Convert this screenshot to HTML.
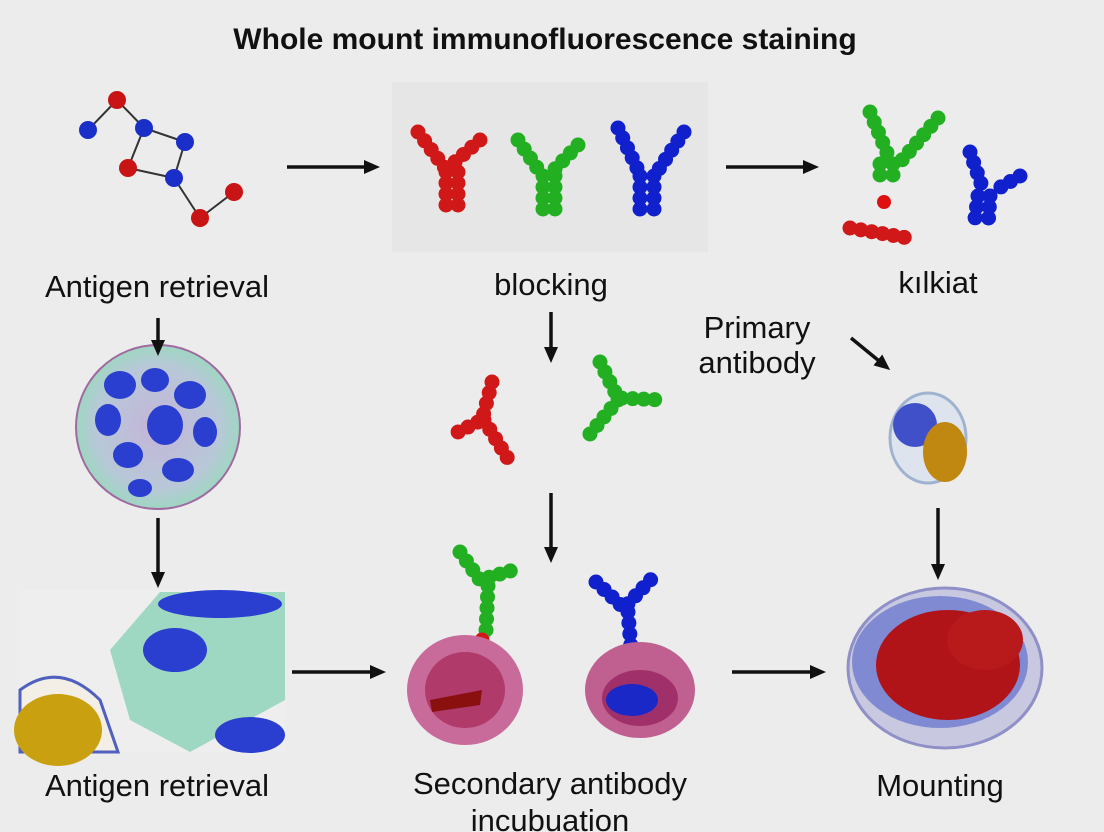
<!DOCTYPE html>
<html><head><meta charset="utf-8"><style>
html,body{margin:0;padding:0;background:#ececec;}
svg{display:block}
text{font-family:"Liberation Sans",sans-serif;fill:#111}
</style></head><body>
<svg width="1104" height="832" viewBox="0 0 1104 832">
<defs>
<marker id="ah" markerWidth="16" markerHeight="16" refX="8" refY="8" orient="auto" markerUnits="userSpaceOnUse"><path d="M0,1 L16,8 L0,15 Z" fill="#111"/></marker>
<radialGradient id="cellg" cx="50%" cy="50%" r="50%"><stop offset="0" stop-color="#c3b4d8"/><stop offset="0.75" stop-color="#b8c8d8"/><stop offset="1" stop-color="#9fd6c2"/></radialGradient>
</defs>
<rect width="1104" height="832" fill="#ececec"/>
<rect x="392" y="82" width="316" height="170" fill="#e6e6e6"/>
<text x="545" y="49" font-size="30" font-weight="bold" text-anchor="middle">Whole mount immunofluorescence staining</text>

<g stroke="#333" stroke-width="2">
<line x1="88" y1="130" x2="117" y2="100"/><line x1="117" y1="100" x2="144" y2="128"/>
<line x1="144" y1="128" x2="185" y2="142"/><line x1="144" y1="128" x2="128" y2="168"/>
<line x1="128" y1="168" x2="174" y2="178"/><line x1="185" y1="142" x2="174" y2="178"/>
<line x1="174" y1="178" x2="200" y2="218"/><line x1="200" y1="218" x2="234" y2="192"/>
</g>
<g><circle cx="117" cy="100" r="9" fill="#c81414"/><circle cx="88" cy="130" r="9" fill="#1a2fc8"/>
<circle cx="144" cy="128" r="9" fill="#1a2fc8"/><circle cx="185" cy="142" r="9" fill="#1a2fc8"/>
<circle cx="128" cy="168" r="9" fill="#c81414"/><circle cx="174" cy="178" r="9" fill="#1a2fc8"/>
<circle cx="200" cy="218" r="9" fill="#c81414"/><circle cx="234" cy="192" r="9" fill="#c81414"/></g>

<g fill="none" stroke-linecap="round" stroke-dasharray="0 11" stroke-width="15">
<path d="M418,132 L445,168 M480,140 L448,168" stroke="#d01818"/>
<path d="M446,172 L446,212 M458,172 L458,212" stroke="#d01818"/>
<path d="M518,140 L540,172 M578,145 L552,172" stroke="#22b022"/>
<path d="M543,176 L543,214 M555,176 L555,214" stroke="#22b022"/>
<path d="M618,128 L638,170 M684,132 L657,172" stroke="#1020cc"/>
<path d="M640,176 L640,214 M654,176 L654,214" stroke="#1020cc"/>
<path d="M870,112 L890,160 M938,118 L902,160" stroke="#22b022"/>
<path d="M880,164 L880,186 M893,164 L893,186" stroke="#22b022"/>
<path d="M850,228 L908,238" stroke="#d01818"/>
<path d="M970,152 L984,192 M1020,176 L992,192" stroke="#1020cc"/>
<path d="M978,196 L974,226 M990,196 L988,226" stroke="#1020cc"/>
</g>
<circle cx="884" cy="202" r="7" fill="#e01010"/>

<g fill="none" stroke-linecap="round" stroke-dasharray="0 11" stroke-width="15">
<path d="M492,382 L482,420 L458,432 M484,420 L510,462" stroke="#d01818"/>
<path d="M600,362 L618,398 L662,400 M618,400 L585,440" stroke="#22b022"/>
<path d="M460,552 L480,580 L520,568 M488,586 L486,630" stroke="#22b022"/>
<path d="M482,640 L470,690" stroke="#d01818"/>
<path d="M596,582 L624,608 L656,574 M628,612 L632,660" stroke="#1020cc"/>
</g>

<circle cx="158" cy="427" r="82" fill="url(#cellg)" stroke="#a06aa0" stroke-width="2"/>
<g fill="#2a3ed0">
<ellipse cx="120" cy="385" rx="16" ry="14"/><ellipse cx="155" cy="380" rx="14" ry="12"/><ellipse cx="190" cy="395" rx="16" ry="14"/>
<ellipse cx="108" cy="420" rx="13" ry="16"/><ellipse cx="165" cy="425" rx="18" ry="20"/><ellipse cx="205" cy="432" rx="12" ry="15"/>
<ellipse cx="128" cy="455" rx="15" ry="13"/><ellipse cx="178" cy="470" rx="16" ry="12"/><ellipse cx="140" cy="488" rx="12" ry="9"/>
</g>

<rect x="20" y="590" width="265" height="162" fill="#eeeeee"/>
<path d="M110,650 L160,592 L285,592 L285,700 L190,752 L130,720 Z" fill="#9fd8c2"/>
<g fill="#2a3ed0"><ellipse cx="220" cy="604" rx="62" ry="14"/><ellipse cx="175" cy="650" rx="32" ry="22"/><ellipse cx="250" cy="735" rx="35" ry="18"/></g>
<path d="M20,690 Q60,660 100,700 L118,752 L20,752 Z" fill="#f3efe6" stroke="#5060c0" stroke-width="3"/>
<ellipse cx="58" cy="730" rx="44" ry="36" fill="#c8a010"/>

<ellipse cx="465" cy="690" rx="58" ry="55" fill="#c86a9a"/>
<ellipse cx="465" cy="690" rx="40" ry="38" fill="#b03a6a"/>
<path d="M430,700 L482,690 L480,705 L432,712 Z" fill="#8a1010"/>
<ellipse cx="640" cy="690" rx="55" ry="48" fill="#c06090"/>
<ellipse cx="640" cy="698" rx="38" ry="28" fill="#a0306a"/>
<ellipse cx="632" cy="700" rx="26" ry="16" fill="#1a28c8"/>

<ellipse cx="928" cy="438" rx="38" ry="45" fill="#dde4ee" stroke="#9fb3d0" stroke-width="3"/>
<ellipse cx="915" cy="425" rx="22" ry="22" fill="#4050c8"/>
<ellipse cx="945" cy="452" rx="22" ry="30" fill="#c08810"/>

<ellipse cx="945" cy="668" rx="97" ry="80" fill="#c8c8e0" stroke="#9090c8" stroke-width="3"/>
<ellipse cx="940" cy="662" rx="88" ry="66" fill="#5060c8" opacity="0.6"/>
<ellipse cx="948" cy="665" rx="72" ry="55" fill="#b01418"/>
<ellipse cx="985" cy="640" rx="38" ry="30" fill="#b81a1c"/>

<g stroke="#111" stroke-width="3.5" marker-end="url(#ah)">
<line x1="287" y1="167" x2="372" y2="167"/><line x1="726" y1="167" x2="811" y2="167"/>
<line x1="292" y1="672" x2="378" y2="672"/><line x1="732" y1="672" x2="818" y2="672"/>
<line x1="158" y1="318" x2="158" y2="348"/><line x1="158" y1="518" x2="158" y2="580"/>
<line x1="551" y1="312" x2="551" y2="355"/><line x1="551" y1="493" x2="551" y2="555"/>
<line x1="938" y1="508" x2="938" y2="572"/><line x1="851" y1="338" x2="884" y2="365"/>
</g>

<g font-size="31">
<text x="157" y="297" text-anchor="middle">Antigen retrieval</text>
<text x="551" y="295" text-anchor="middle">blocking</text>
<text x="938" y="293" text-anchor="middle">kılkiat</text>
<text x="757" y="338" text-anchor="middle">Primary</text>
<text x="757" y="373" text-anchor="middle">antibody</text>
<text x="157" y="796" text-anchor="middle">Antigen retrieval</text>
<text x="550" y="794" text-anchor="middle">Secondary antibody</text>
<text x="550" y="831" text-anchor="middle">incubuation</text>
<text x="940" y="796" text-anchor="middle">Mounting</text>
</g>
</svg>
</body></html>
